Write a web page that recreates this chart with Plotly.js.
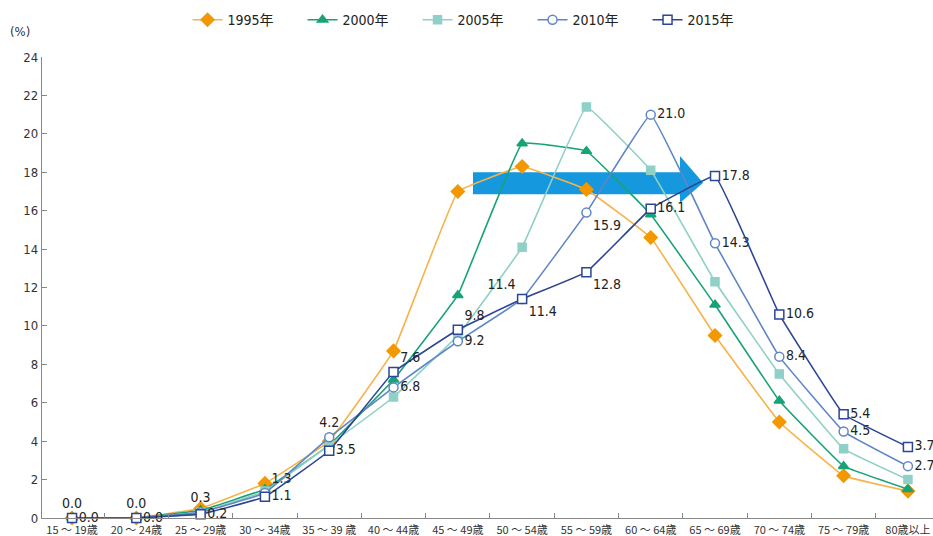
<!DOCTYPE html>
<html><head><meta charset="utf-8">
<script src="https://cdn.plot.ly/plotly-3.0.1.min.js"></script>
<style>html,body{margin:0;padding:0;background:#fff}#chart{width:933px;height:536px}</style>
</head><body><div id="chart"></div>
<script>
const categories = ["15 ～ 19歳","20 ～ 24歳","25 ～ 29歳","30 ～ 34歳","35 ～ 39 歳","40 ～ 44歳","45 ～ 49歳","50 ～ 54歳","55 ～ 59歳","60 ～ 64歳","65 ～ 69歳","70 ～ 74歳","75 ～ 79歳","80歳以上"];
const seriesNames = ["1995年","2000年","2005年","2010年","2015年"];
const v1995 = [0.0,0.0,0.5,1.8,4.0,8.7,17.0,18.3,17.1,14.6,9.5,5.0,2.2,1.4];
const v2000 = [0.0,0.0,0.4,1.5,3.8,7.2,11.6,19.5,19.1,15.8,11.1,6.1,2.7,1.5];
const v2005 = [0.0,0.0,0.3,1.4,3.8,6.3,9.5,14.1,21.4,18.1,12.3,7.5,3.6,2.0];
const v2010 = [0.0,0.0,0.3,1.3,4.2,6.8,9.2,11.4,15.9,21.0,14.3,8.4,4.5,2.7];
const v2015 = [0.0,0.0,0.2,1.1,3.5,7.6,9.8,11.4,12.8,16.1,17.8,10.6,5.4,3.7];
const yTicks = [0,2,4,6,8,10,12,14,16,18,20,22,24];

const pos2010 = ["top center","top center","top center","top right","top center","middle right","middle right","top left","bottom right","middle right","middle right","middle right","middle right","middle right"];
const pos2015 = ["middle right","middle right","middle right","middle right","middle right","top right","top right","bottom right","bottom right","middle right","middle right","middle right","middle right","middle right"];

const labelFont = {family:"'DejaVu Sans Condensed','Liberation Sans Narrow',Arial,sans-serif", size:14, color:"#222"};
const lineShape = {shape:"spline", smoothing:0.2, width:1.6};

const traces = [
  {name:seriesNames[0], y:v1995, color:"#F7B24A", mcolor:"#F39800", symbol:"diamond", size:10, lcolor:"#F39800"},
  {name:seriesNames[1], y:v2000, color:"#17A377", mcolor:"#17A377", symbol:"triangle-up", size:9, lcolor:"#17A377"},
  {name:seriesNames[2], y:v2005, color:"#8FD0C7", mcolor:"#8FD0C7", symbol:"square", size:8, lcolor:"#8FD0C7"},
  {name:seriesNames[3], y:v2010, color:"#5F86C6", mcolor:"#ffffff", symbol:"circle", size:9, lcolor:"#5F86C6", text:v2010, pos:pos2010},
  {name:seriesNames[4], y:v2015, color:"#2C4595", mcolor:"#ffffff", symbol:"square", size:9, lcolor:"#2C4595", text:v2015, pos:pos2015}
].map(s => ({
  type:"scatter", x:categories, y:s.y, name:s.name,
  mode: s.text ? "lines+markers+text" : "lines+markers",
  text: s.text ? s.text.map(v => v.toFixed(1)) : undefined,
  textposition: s.pos, textfont: labelFont,
  line: Object.assign({color:s.color}, lineShape),
  marker:{symbol:s.symbol, size:s.size, color:s.mcolor, line:{color:s.lcolor, width:1.5}},
  cliponaxis:false, hoverinfo:"skip"
}));

const layout = {
  width:933, height:536,
  margin:{l:42, r:0, t:57, b:18},
  paper_bgcolor:"#fff", plot_bgcolor:"#fff",
  font:{family:"'Noto Sans CJK JP','DejaVu Sans Condensed',sans-serif", color:"#333"},
  showlegend:true,
  legend:{orientation:"h", x:0.486, xanchor:"center", y:1.08, yanchor:"middle",
    font:{size:14, color:"#222", family:"'DejaVu Sans Condensed','Noto Sans CJK JP',sans-serif"},
    entrywidth:70, entrywidthmode:"pixels", itemwidth:30, traceorder:"normal"},
  xaxis:{type:"category", range:[-0.467,13.39], showgrid:false, zeroline:false,
    showline:true, linecolor:"#888", linewidth:1.2, tickangle:0,
    ticks:"inside", tickson:"boundaries", ticklen:5, tickcolor:"#888", ticklabelstandoff:2,
    tickfont:{size:11, color:"#333", family:"'Noto Sans CJK JP',sans-serif"}, automargin:false},
  yaxis:{range:[0,24], tickvals:yTicks, showgrid:false, zeroline:false,
    showline:true, linecolor:"#888", linewidth:1.2,
    ticks:"inside", ticklen:5, tickcolor:"#888",
    tickfont:{size:13, color:"#333", family:"'DejaVu Sans Condensed',sans-serif"}, automargin:false},
  annotations:[{xref:"paper", yref:"paper", x:0, y:1.0, xshift:-10, yshift:26, text:"(%)", showarrow:false,
    font:{size:13, color:"#333", family:"'DejaVu Sans Condensed',sans-serif"}, xanchor:"right", yanchor:"middle"}],
  shapes:[{type:"path", xref:"paper", yref:"y", layer:"below", line:{width:0}, fillcolor:"#1598DE",
    path:"M 0.4837 16.85 L 0.716 16.85 L 0.716 16.4 L 0.742 17.45 L 0.716 18.85 L 0.716 18.0 L 0.4837 18.0 Z"}]
};

Plotly.newPlot("chart", traces, layout, {displayModeBar:false, staticPlot:true});
</script></body></html>
